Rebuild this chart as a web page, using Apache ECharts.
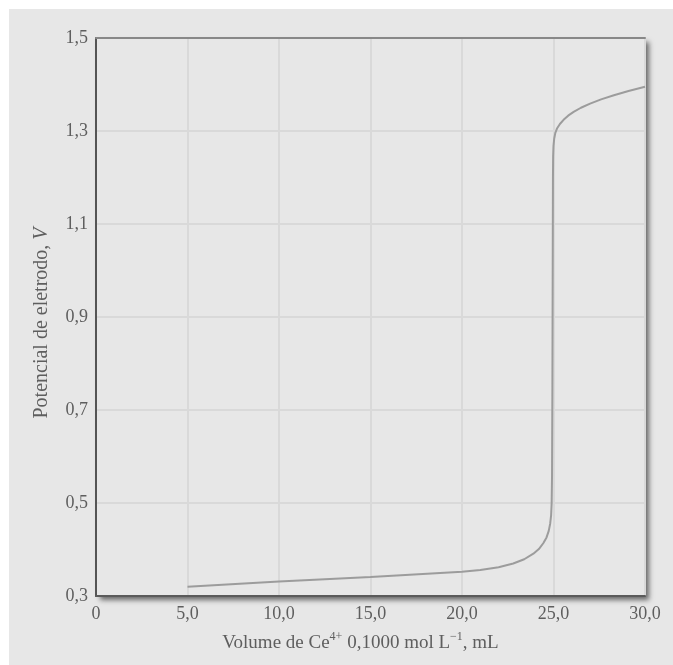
<!DOCTYPE html>
<html>
<head>
<meta charset="utf-8">
<title>Titulação Fe2+ com Ce4+</title>
<script src="https://cdn.jsdelivr.net/npm/echarts@6/dist/echarts.min.js"></script>
<style>
    html,body{margin:0;padding:0;background:#fff;}
    #chart{position:absolute;left:9px;top:9px;width:664px;height:656px;}
</style>
</head>
<body>
<div id="chart"></div>
<script>
//volume de Ce4+ adicionado (mL)
var volume=[5, 10, 15, 20, 21, 22, 22.8, 23.4, 23.9, 24.2, 24.45, 24.62, 24.74, 24.82, 24.87, 24.9, 24.92, 24.94, 24.96, 24.97, 24.98, 25.0, 25.04, 25.1, 25.2, 25.35, 25.55, 25.8, 26.1, 26.5, 27, 27.6, 28.3, 29.1, 30];
//potencial de eletrodo (V)
var potential=[0.320, 0.331, 0.341, 0.352, 0.356, 0.362, 0.370, 0.379, 0.391, 0.401, 0.414, 0.426, 0.440, 0.456, 0.474, 0.500, 0.560, 0.750, 1.050, 1.200, 1.245, 1.268, 1.284, 1.296, 1.306, 1.315, 1.324, 1.333, 1.341, 1.350, 1.359, 1.368, 1.377, 1.386, 1.395];
//rótulos dos eixos
var xTicks=[0, 5, 10, 15, 20, 25, 30];
var yTicks=[0.3, 0.5, 0.7, 0.9, 1.1, 1.3, 1.5];

;(function () {
    var font='"Liberation Serif", "DejaVu Serif", serif';
    var labelColor='#5e5e5e';

    //vírgula decimal
    function xLabel(v) {
        return v===0 ? '0' : v.toFixed(1).replace('.', ',');
    }
    function yLabel(v) {
        return v.toFixed(1).replace('.', ',');
    }

    var points=[];
    for(var i=0;i<volume.length;i++){
        points.push([volume[i], potential[i]]);
    }

    var myChart=echarts.init(document.getElementById('chart'));
    var option={
        backgroundColor:'#e7e7e7',
        animation:false,
        grid:{
            left:87, right:28, top:29, bottom:69,
            show:true,
            backgroundColor:'#e7e7e7',
            borderWidth:0,
            shadowColor:'rgba(0,0,0,0.55)',
            shadowBlur:5,
            shadowOffsetX:4,
            shadowOffsetY:4
        },
        xAxis:[{
            type:'value',
            min:xTicks[0],
            max:xTicks[xTicks.length-1],
            interval:5,
            axisLine:{show:true,onZero:false,lineStyle:{color:'#5a5a5a',width:2}},
            axisTick:{show:false},
            axisLabel:{formatter:xLabel,color:labelColor,fontFamily:font,fontSize:18,margin:9},
            splitLine:{show:true,lineStyle:{color:'#d9d9d9',width:2}},
            name:'Volume de Ce{sup|4+} 0,1000 mol L{sup|\u22121}, mL',
            nameLocation:'middle',
            nameGap:35,
            nameTextStyle:{
                color:labelColor,fontFamily:font,fontSize:19,lineHeight:24,
                padding:[0,20,0,0],
                rich:{sup:{fontSize:12,fontFamily:font,color:labelColor,verticalAlign:'top',lineHeight:14}}
            }
        },{
            //linha superior do quadro
            type:'value',
            position:'top',
            min:xTicks[0],
            max:xTicks[xTicks.length-1],
            axisLine:{show:true,lineStyle:{color:'#888',width:2}},
            axisTick:{show:false},
            axisLabel:{show:false},
            splitLine:{show:false}
        }],
        yAxis:[{
            type:'value',
            min:yTicks[0],
            max:yTicks[yTicks.length-1],
            interval:0.2,
            axisLine:{show:true,onZero:false,lineStyle:{color:'#7a7a7a',width:1.5}},
            axisTick:{show:false},
            axisLabel:{formatter:yLabel,color:labelColor,fontFamily:font,fontSize:18,margin:8},
            splitLine:{show:true,lineStyle:{color:'#d9d9d9',width:2}},
            name:'Potencial de eletrodo, {i|V}',
            nameLocation:'middle',
            nameGap:44,
            nameTextStyle:{
                color:labelColor,fontFamily:font,fontSize:20,
                padding:[0,12,0,0],
                rich:{i:{fontStyle:'italic',fontFamily:font,fontSize:20,color:labelColor}}
            }
        },{
            //linha direita do quadro
            type:'value',
            position:'right',
            min:yTicks[0],
            max:yTicks[yTicks.length-1],
            axisLine:{show:true,lineStyle:{color:'#555',width:2}},
            axisTick:{show:false},
            axisLabel:{show:false},
            splitLine:{show:false}
        }],
        series:[{
            type:'line',
            data:points,
            showSymbol:false,
            smooth:false,
            lineStyle:{color:'#9c9c9c',width:2}
        }]
    };
    myChart.setOption(option);
})();
</script>
</body>
</html>
